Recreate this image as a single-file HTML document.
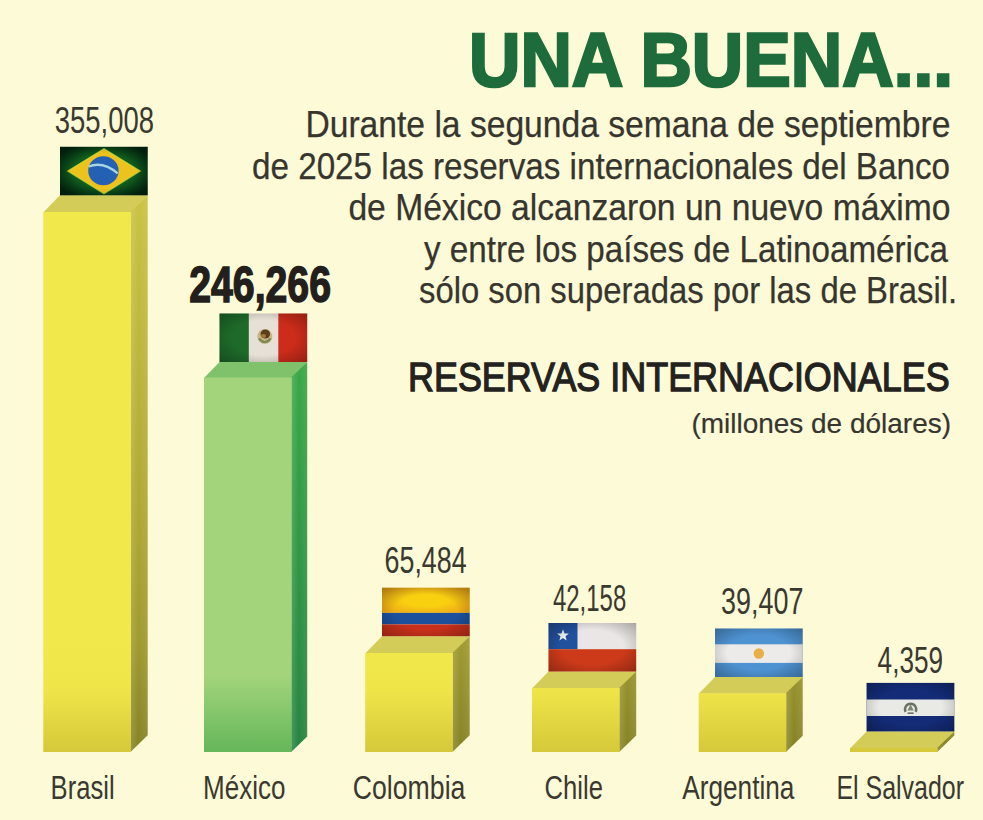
<!DOCTYPE html>
<html><head><meta charset="utf-8"><style>
html,body{margin:0;padding:0;background:#fdfad7;overflow:hidden;}
svg{display:block;}
text{font-family:"Liberation Sans",sans-serif;}
</style></head><body>
<svg width="983" height="820" viewBox="0 0 983 820">
<defs>
<linearGradient id="yf" x1="0" y1="640" x2="0" y2="752" gradientUnits="userSpaceOnUse">
<stop offset="0" stop-color="#f1e84b"/><stop offset="0.45" stop-color="#efe549"/><stop offset="1" stop-color="#d5c83a"/></linearGradient>
<linearGradient id="ys" x1="0" y1="200" x2="0" y2="752" gradientUnits="userSpaceOnUse">
<stop offset="0" stop-color="#c9c244"/><stop offset="0.55" stop-color="#b0a834"/><stop offset="0.8" stop-color="#a09a30"/><stop offset="1" stop-color="#858226"/></linearGradient>
<linearGradient id="gf" x1="0" y1="675" x2="0" y2="752" gradientUnits="userSpaceOnUse">
<stop offset="0" stop-color="#a3d47b"/><stop offset="1" stop-color="#65b75a"/></linearGradient>
<linearGradient id="gs" x1="0" y1="370" x2="0" y2="752" gradientUnits="userSpaceOnUse">
<stop offset="0" stop-color="#3aa747"/><stop offset="1" stop-color="#278442"/></linearGradient>
<radialGradient id="vig" cx="0.5" cy="0.5" r="0.72">
<stop offset="0.45" stop-color="#000" stop-opacity="0"/><stop offset="1" stop-color="#000" stop-opacity="0.55"/></radialGradient>
<radialGradient id="vig2" cx="0.5" cy="0.5" r="0.72">
<stop offset="0.5" stop-color="#000" stop-opacity="0"/><stop offset="1" stop-color="#000" stop-opacity="0.3"/></radialGradient>
<radialGradient id="brg" cx="0.5" cy="0.5" r="0.6">
<stop offset="0" stop-color="#1c7d2c"/><stop offset="0.6" stop-color="#0f5a1e"/><stop offset="1" stop-color="#032810"/></radialGradient>
<radialGradient id="colY" cx="0.5" cy="0.5" r="0.6">
<stop offset="0.4" stop-color="#f9d010"/><stop offset="1" stop-color="#eda818"/></radialGradient>
<linearGradient id="sideH" x1="0" y1="0" x2="1" y2="0">
<stop offset="0" stop-color="#fff" stop-opacity="0.14"/><stop offset="0.45" stop-color="#fff" stop-opacity="0"/><stop offset="1" stop-color="#fff" stop-opacity="0.08"/></linearGradient>
</defs>
<rect width="983" height="820" fill="#fdfad7"/>
<polygon points="43.3,212.5 60.0,195.3 147.7,195.3 131.3,212.5" fill="#d3cc58"/>
<polygon points="130.5,212 147.7,195.3 147.7,735.3 130.5,752" fill="url(#ys)"/>
<polygon points="131.0,212 147.7,195.3 147.7,735.3 131.0,752" fill="url(#sideH)"/>
<rect x="43.3" y="212" width="87.7" height="540" fill="url(#yf)"/>
<polygon points="204,378.0 219.5,362.0 307.2,362.0 292.0,378.0" fill="#80c16c"/>
<polygon points="291.2,377.5 307.2,362.0 307.2,736.5 291.2,752" fill="url(#gs)"/>
<polygon points="291.7,377.5 307.2,362.0 307.2,736.5 291.7,752" fill="url(#sideH)"/>
<rect x="204" y="377.5" width="87.7" height="374.5" fill="url(#gf)"/>
<polygon points="365.2,653.5 382.0,636.2 469.7,636.2 453.2,653.5" fill="#d3cc58"/>
<polygon points="452.4,653 469.7,636.2 469.7,735.2 452.4,752" fill="url(#ys)"/>
<polygon points="452.9,653 469.7,636.2 469.7,735.2 452.9,752" fill="url(#sideH)"/>
<rect x="365.2" y="653" width="87.7" height="99" fill="url(#yf)"/>
<polygon points="532,688.5 548.5,671.5 636.2,671.5 620.0,688.5" fill="#d3cc58"/>
<polygon points="619.2,688 636.2,671.5 636.2,735.5 619.2,752" fill="url(#ys)"/>
<polygon points="619.7,688 636.2,671.5 636.2,735.5 619.7,752" fill="url(#sideH)"/>
<rect x="532" y="688" width="87.7" height="64" fill="url(#yf)"/>
<polygon points="698.7,693.8 715.0,677.0 802.7,677.0 786.7,693.8" fill="#d3cc58"/>
<polygon points="785.9000000000001,693.3 802.7,677.0 802.7,735.7 785.9000000000001,752" fill="url(#ys)"/>
<polygon points="786.4000000000001,693.3 802.7,677.0 802.7,735.7 786.4000000000001,752" fill="url(#sideH)"/>
<rect x="698.7" y="693.3" width="87.7" height="58.700000000000045" fill="url(#yf)"/>
<polygon points="850,748.5 866.6,731.4 954.3000000000001,731.4 938.0,748.5" fill="#d3cc58"/>
<polygon points="937.2,748 954.3000000000001,731.4 954.3000000000001,735.4 937.2,752" fill="url(#ys)"/>
<polygon points="937.7,748 954.3000000000001,731.4 954.3000000000001,735.4 937.7,752" fill="url(#sideH)"/>
<rect x="850" y="748" width="87.7" height="4" fill="url(#yf)"/>
<g transform="translate(60.0,146.8)">
<rect width="87.7" height="48.5" fill="url(#brg)"/>
<polygon points="7.8,24.25 44,2 80,24.25 44,46.7" fill="#eec21c"/>
<polygon points="7.8,24.25 44,2 80,24.25 44,46.7" fill="none" stroke="#d8dc3a" stroke-width="1.5" stroke-opacity="0.7"/>
<ellipse cx="43.4" cy="24" rx="15.2" ry="14.5" fill="#2460b4"/>
<path d="M28.6,19.7 Q43,14 57.7,26.6" stroke="#a6d6e6" stroke-width="2.4" fill="none"/>
<rect width="87.7" height="48.5" fill="url(#vig2)"/>
</g>
<g transform="translate(219.5,313.5)">
<rect width="29.4" height="48.5" fill="#1e6a2a"/>
<rect x="29.4" width="29.4" height="48.5" fill="#e6e0d6"/>
<rect x="58.8" width="28.900000000000006" height="48.5" fill="#cd2c1a"/>
<circle cx="45.3" cy="23" r="7.5" fill="#c9b58c"/>
<path d="M39.5,25 Q45.3,32 51.1,25" stroke="#7a8a50" stroke-width="2.2" fill="none"/>
<ellipse cx="45.8" cy="20.5" rx="4.8" ry="4.6" fill="#5e3f1c"/>
<ellipse cx="44" cy="22.5" rx="2.5" ry="2" fill="#a07a3a"/>
<rect width="87.7" height="48.5" fill="url(#vig2)"/>
</g>
<g transform="translate(382.0,587.7)">
<rect width="87.7" height="25.2" fill="url(#colY)"/>
<rect y="25.2" width="87.7" height="11.5" fill="#1c4f9c"/>
<rect y="36.7" width="87.7" height="11.799999999999997" fill="#c9301b"/>
<rect width="87.7" height="48.5" fill="url(#vig2)"/>
</g>
<g transform="translate(548.5,623.0)">
<rect width="87.7" height="26.2" fill="#ebe6e6"/>
<rect width="29" height="26.2" fill="#21509c"/>
<rect y="26.2" width="87.7" height="22.3" fill="#cd3a1a"/>
<polygon points="14.50,6.30 16.03,10.39 20.40,10.58 16.98,13.30 18.14,17.52 14.50,15.10 10.86,17.52 12.02,13.30 8.60,10.58 12.97,10.39" fill="#f0f0f0"/>
<rect width="87.7" height="48.5" fill="url(#vig2)"/>
</g>
<g transform="translate(715.0,628.5)">
<rect width="87.7" height="48.5" fill="#4e92d2"/>
<rect y="15.8" width="87.7" height="18.6" fill="#ecebea"/>
<circle cx="43.85" cy="25" r="5.2" fill="#e8ae48"/>
<rect width="87.7" height="48.5" fill="url(#vig2)"/>
</g>
<g transform="translate(866.6,682.9)">
<rect width="87.7" height="48.5" fill="#142c78"/>
<rect y="16.6" width="87.7" height="16.5" fill="#e9e9e6"/>
<path d="M39,29 A5.6,5.6 0 1 1 49,29" stroke="#6a7262" stroke-width="2.4" fill="none"/>
<polygon points="44,21.5 40.8,27.5 47.2,27.5" fill="#7d8474"/>
<rect x="41" y="29.5" width="6" height="1.6" fill="#6a7262"/>
<rect width="87.7" height="48.5" fill="url(#vig2)"/>
</g>
<text x="469.00" y="86.00" font-size="75.67" font-weight="bold" fill="#1e6b3b" stroke="#1e6b3b" stroke-width="2.6" textLength="484.00" lengthAdjust="spacingAndGlyphs">UNA BUENA...</text>
<text x="305.40" y="137.00" font-size="37.40" font-weight="normal" fill="#36352e" stroke="#36352e" stroke-width="0.25" textLength="645.00" lengthAdjust="spacingAndGlyphs">Durante la segunda semana de septiembre</text>
<text x="252.00" y="178.60" font-size="37.40" font-weight="normal" fill="#36352e" stroke="#36352e" stroke-width="0.25" textLength="698.00" lengthAdjust="spacingAndGlyphs">de 2025 las reservas internacionales del Banco</text>
<text x="348.40" y="220.00" font-size="37.40" font-weight="normal" fill="#36352e" stroke="#36352e" stroke-width="0.25" textLength="602.00" lengthAdjust="spacingAndGlyphs">de México alcanzaron un nuevo máximo</text>
<text x="424.00" y="261.60" font-size="37.40" font-weight="normal" fill="#36352e" stroke="#36352e" stroke-width="0.25" textLength="524.00" lengthAdjust="spacingAndGlyphs">y entre los países de Latinoamérica</text>
<text x="419.00" y="302.60" font-size="37.40" font-weight="normal" fill="#36352e" stroke="#36352e" stroke-width="0.25" textLength="538.20" lengthAdjust="spacingAndGlyphs">sólo son superadas por las de Brasil.</text>
<text x="408.00" y="391.30" font-size="41.32" font-weight="normal" fill="#23221e" stroke="#23221e" stroke-width="1.3" textLength="541.60" lengthAdjust="spacingAndGlyphs">RESERVAS INTERNACIONALES</text>
<text x="691.40" y="432.60" font-size="28.50" font-weight="normal" fill="#36352e" stroke="#36352e" stroke-width="0.2" textLength="259.60" lengthAdjust="spacingAndGlyphs">(millones de dólares)</text>
<text x="54.80" y="132.70" font-size="36.62" font-weight="normal" fill="#3a392f" textLength="99.20" lengthAdjust="spacingAndGlyphs">355,008</text>
<text x="189.20" y="302.20" font-size="50.45" font-weight="bold" fill="#221f1c" stroke="#221f1c" stroke-width="1.5" textLength="141.80" lengthAdjust="spacingAndGlyphs">246,266</text>
<text x="384.60" y="573.30" font-size="36.62" font-weight="normal" fill="#3a392f" textLength="82.00" lengthAdjust="spacingAndGlyphs">65,484</text>
<text x="553.00" y="611.00" font-size="36.62" font-weight="normal" fill="#3a392f" textLength="73.20" lengthAdjust="spacingAndGlyphs">42,158</text>
<text x="721.00" y="614.00" font-size="36.62" font-weight="normal" fill="#3a392f" textLength="82.40" lengthAdjust="spacingAndGlyphs">39,407</text>
<text x="877.60" y="672.50" font-size="36.62" font-weight="normal" fill="#3a392f" textLength="65.40" lengthAdjust="spacingAndGlyphs">4,359</text>
<text x="50.60" y="799.20" font-size="32.33" font-weight="normal" fill="#3a392f" textLength="64.00" lengthAdjust="spacingAndGlyphs">Brasil</text>
<text x="203.00" y="799.20" font-size="32.33" font-weight="normal" fill="#3a392f" textLength="82.40" lengthAdjust="spacingAndGlyphs">México</text>
<text x="352.80" y="799.20" font-size="32.33" font-weight="normal" fill="#3a392f" textLength="112.60" lengthAdjust="spacingAndGlyphs">Colombia</text>
<text x="544.60" y="799.20" font-size="32.33" font-weight="normal" fill="#3a392f" textLength="58.40" lengthAdjust="spacingAndGlyphs">Chile</text>
<text x="682.20" y="799.20" font-size="32.33" font-weight="normal" fill="#3a392f" textLength="112.20" lengthAdjust="spacingAndGlyphs">Argentina</text>
<text x="836.40" y="799.20" font-size="32.33" font-weight="normal" fill="#3a392f" textLength="127.60" lengthAdjust="spacingAndGlyphs">El Salvador</text>
</svg></body></html>
